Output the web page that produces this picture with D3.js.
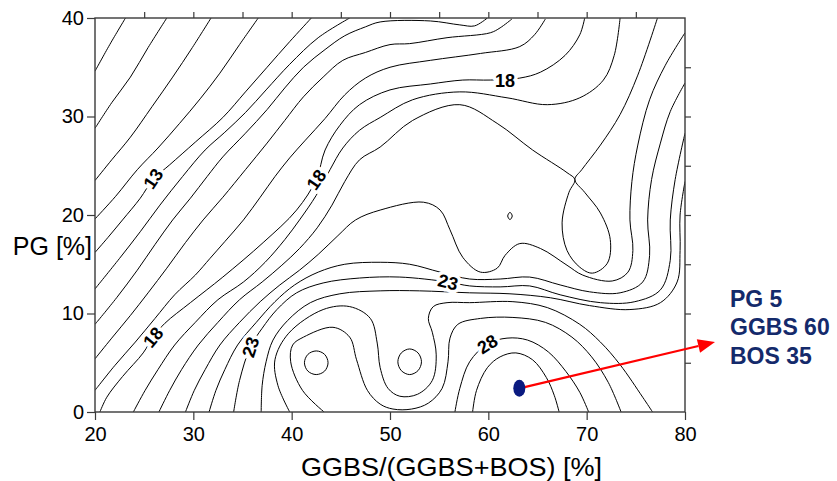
<!DOCTYPE html>
<html><head><meta charset="utf-8">
<script src="https://cdn.jsdelivr.net/npm/d3@7"></script>
<style>body{margin:0;background:#fff}svg{display:block}</style>
</head><body>
<svg id="chart" width="837" height="481"></svg>
<script>
// ---------- data (data units: x = GGBS/(GGBS+BOS) %, y = PG %) ----------
const xDomain = [20, 80];
const yDomain = [0, 40];
const xTickValues = [20, 30, 40, 50, 60, 70, 80];
const yTickValues = [0, 10, 20, 30, 40];
const xMinorTicks = [25, 30, 35, 40, 45, 50, 55, 60, 65, 70, 75];
const yMinorTicks = [5, 10, 15, 20, 25, 30, 35];
const xTitle = "GGBS/(GGBS+BOS) [%]";
const yTitle = "PG [%]";

// contour lines
const c09 = [[23.1,40],[21.5,37.3],[20,34.6]];
const c10 = [[27.3,40],[25.4,37.0],[23.6,34.0],[21.7,31.4],[20,28.8]];
const c11 = [[31.8,40],[29.9,37.0],[27.9,34.0],[25.8,31.0],[23.6,27.9],[21.7,25.6],[20,23.5]];
const c12 = [[36.6,40],[34.7,37.3],[32.7,34.4],[30.7,31.8],[28.6,29.3],[26.4,26.8],[24.3,24.6],[22.1,21.9],[20,19.6]];
const c13 = [[42.0,40],[39.8,37.6],[37.5,35.0],[35.3,32.5],[33.0,29.9],[30.2,27.4],[27.6,25.1],[25.9,23.6],[24.6,21.7],[22.8,19.5],[21.3,17.7],[20,16.2]];
const c14 = [[45.9,40],[42.7,38.0],[39.8,35.3],[37.4,32.7],[35.3,30.4],[33.2,28.4],[31.2,26.6],[28.9,23.9],[26.6,21.0],[24.6,18.3],[22.5,15.6],[20,12.5]];
const c15 = [[59.9,40],[58.6,39.2],[57.1,39.3],[54.1,39.7],[49.0,39.6],[47.5,39.1],[45.4,38.2],[43.4,36.8],[41.2,35.0],[39.3,32.9],[37.5,30.7],[35.3,28.3],[33.0,25.9],[31.4,23.9],[29.7,21.7],[27.9,19.5],[26.1,17.0],[24.3,14.4],[22.2,11.6],[20,8.9]];
const c16 = [[62.4,39.9],[61.2,39.0],[60.2,38.5],[55.8,38.0],[52.0,37.4],[50.0,37.3],[47.5,36.5],[45.2,35.7],[43.2,34.0],[41.2,32.0],[39.3,29.6],[37.5,27.3],[35.3,24.6],[33.0,21.8],[31.0,19.5],[29.2,17.2],[27.3,14.6],[25.4,12.1],[23.6,9.8],[21.7,7.5],[20,5.4]];
const c17 = [[65.8,39.9],[64.7,38.3],[63.2,37.1],[59.2,36.4],[54.1,35.7],[50.0,35.0],[47.5,33.9],[45.4,32.2],[43.4,29.8],[41.4,27.6],[39.8,25.8],[38.3,23.9],[36.8,21.8],[35.1,19.5],[33.2,17.3],[31.7,15.6],[30.2,13.9],[28.1,11.9],[26.1,9.5],[24.1,7.1],[22.0,4.7],[20,2.2]];
const c18 = [[69.8,40],[69.3,38.3],[67.8,36.2],[65.3,34.5],[63.2,33.9],[60.2,33.7],[57.4,33.7],[54.1,33.3],[50.0,32.7],[46.9,31.2],[44.9,29.1],[43.4,26.6],[42.5,23.6],[40.5,20.5],[37.1,17.2],[33.0,13.7],[29.7,11.1],[27.1,9.0],[25.9,7.6],[24.9,6.0],[22.8,3.6],[21.2,1.5],[20.5,0]];
const c19 = [[73.4,40],[72.8,36.2],[71.7,33.7],[69.3,31.9],[66.0,31.2],[61.9,31.9],[57.1,32.5],[52.3,31.7],[49.0,29.9],[46.9,28.6],[45.2,26.8],[43.9,24.6],[42.5,22.0],[40.8,19.5],[39.3,17.5],[37.3,15.2],[35.1,13.2],[32.5,11.4],[30.2,9.1],[28.1,6.8],[26.4,4.3],[25.1,2.2],[23.9,0]];
const c20 = [[26.5,0],[27.6,2.2],[28.8,4.3],[30.5,6.8],[32.5,9.1],[34.7,11.4],[37.0,13.2],[39.0,14.9],[40.8,16.6],[42.6,18.7],[44.1,21.0],[45.4,23.4],[46.9,25.6],[49.0,26.9],[52.3,29.6],[57.1,31.2],[60.9,29.3],[64.5,26.6],[68.0,24.3],[68.8,23.6],[68.2,22.3],[67.5,19.2],[68.0,16.4],[69.3,14.7],[70.6,14.1],[72.1,15.1],[72.4,17.5],[71.4,20.2],[69.8,22.3],[68.8,23.6],[69.5,24.6],[71.4,27.1],[73.4,30.2],[75.2,34.2],[77.2,40]];
const c21 = [[29.2,0],[30.1,2.2],[31.2,4.3],[32.7,6.8],[34.7,9.1],[36.8,11.2],[38.8,12.9],[40.8,14.4],[42.7,16.0],[44.7,17.9],[46.5,19.5],[49.0,20.5],[53.4,21.3],[55.1,20.5],[56.1,18.5],[57.4,15.7],[59.2,14.2],[60.9,14.6],[61.7,15.9],[63.2,17.1],[65.3,16.6],[68.0,14.9],[69.6,13.9],[72.6,13.3],[74.2,14.2],[74.7,16.4],[74.4,19.5],[74.6,23.4],[75.2,27.1],[76.4,31.7],[78.0,35.2],[80,38.5]];
const c22 = [[31.6,0],[32.3,2.2],[33.2,4.3],[34.5,6.8],[36.4,9.1],[38.3,11.2],[40.3,12.9],[42.7,14.2],[45.4,15.0],[49.0,15.2],[52.0,15.0],[55.1,14.2],[58.1,13.5],[61.2,13.5],[64.2,13.7],[67.3,12.9],[70.3,12.2],[73.4,12.1],[75.7,13.2],[76.4,15.9],[76.2,19.5],[76.6,23.6],[77.5,27.3],[78.5,30.5],[80,33.4]];
const c23 = [[34.1,0],[34.7,3.2],[35.8,6.6],[37.0,8.5],[38.5,10.4],[40.5,12.1],[43.2,13.1],[46.9,13.6],[51.0,13.7],[55.9,13.2],[58.1,12.8],[61.2,12.7],[64.2,12.8],[67.3,11.9],[71.4,11.1],[74.9,11.2],[77.5,12.4],[78.5,15.4],[78.5,19.5],[79.0,23.6],[80,28.3]];
const c24 = [[36.9,0],[37.0,2.7],[37.4,5.1],[38.1,7.3],[39.6,9.3],[41.9,11.1],[44.9,12.0],[49.0,12.3],[53.0,12.3],[58.1,12.1],[62.2,12.0],[66.3,11.6],[70.3,10.8],[74.4,10.4],[77.5,11.1],[79.2,13.2],[79.5,16.4],[79.5,20.0],[80,23.4]];
const c25 = [[39.8,0],[38.6,2.7],[38.3,5.3],[39.7,8.0],[43.2,10.4],[45.9,10.7],[48.0,9.5],[48.7,7.0],[49.0,4.5],[49.8,2.4],[51.0,1.6],[52.8,1.8],[54.3,3.2],[54.7,5.8],[54.3,8.1],[53.9,9.5],[54.4,10.7],[55.8,11.1],[58.1,11.1],[62.5,11.2],[66.0,10.6],[69.3,8.9],[71.4,7.1],[73.4,4.8],[75.7,1.5],[76.7,0]];
const c26 = [[43.3,0],[41.1,2.2],[39.9,5.1],[40.1,6.8],[41.2,7.6],[44.2,8.6],[45.9,7.6],[46.6,5.3],[47.7,2.2],[49.0,0.8],[50.3,0.3],[52.2,0.3],[53.9,0.9],[55.3,2.4],[55.9,5.1],[56.1,7.5],[56.9,8.9],[59.2,9.5],[62.5,9.6],[65.8,9.1],[68.5,7.6],[70.5,5.6],[72.2,3.0],[73.5,0]];
const c28 = [[56.6,0],[57.1,2.4],[58.1,5.1],[59.9,6.9],[61.9,7.5],[64.0,7.3],[66.1,6.1],[67.9,4.1],[69.3,2.0],[70.2,0]];
const c29 = [[58.4,0],[58.8,2.2],[59.9,4.5],[61.2,5.6],[62.8,6.0],[64.5,5.3],[65.9,3.5],[66.7,1.7],[67.2,0]];
const loopLeftLobe  = [[43.7,5.0],[43.35,5.85],[42.5,6.2],[41.65,5.85],[41.3,5.0],[41.65,4.15],[42.5,3.8],[43.35,4.15]];
const loopRightLobe = [[53.2,5.1],[52.85,6.0],[52.0,6.4],[51.15,6.0],[50.8,5.1],[51.15,4.2],[52.0,3.8],[52.85,4.2]];
const loopSmall     = [[62.43,19.9],[62.2,20.27],[61.97,19.9],[62.2,19.53]];

const openContours = [c09,c10,c11,c12,c13,c14,c15,c16,c17,c18,c19,c20,c21,c22,c23,c24,c25,c26,c28,c29];
const closedContours = [loopLeftLobe, loopRightLobe, loopSmall];

// contour labels: text, x, y, rotation (deg)
const labelText  = ["13","18","18","18","23","23","28"];
const labelX     = [25.9, 42.5, 61.7, 25.9, 35.8, 55.9, 59.9];
const labelY     = [23.7, 23.6, 33.7, 7.6, 6.6, 13.2, 6.9];
const labelAngle = [-56, -55, 0, -50, -72, 14, -32];

// marked mix and its annotation
const markPoint = [63.15, 2.4];
const arrowTip = [83.05, 7.1];
const noteLines = ["PG 5", "GGBS 60", "BOS 35"];

// ---------- drawing ----------
const svg = d3.select("#chart");
const W = 837, H = 481;
const m = {left: 95, right: 837-685, top: 18, bottom: 481-412};
const x = d3.scaleLinear().domain(xDomain).range([m.left, W - m.right]);
const y = d3.scaleLinear().domain(yDomain).range([H - m.bottom, m.top]);
const FONT = "'Liberation Sans', Arial, Helvetica, sans-serif";
const axisColor = "#3a3a3a";

svg.append("defs").append("clipPath").attr("id","plotclip")
  .append("rect").attr("x", x(20)).attr("y", y(40))
  .attr("width", x(80)-x(20)).attr("height", y(0)-y(40));

const gC = svg.append("g").attr("clip-path","url(#plotclip)");
const line = d3.line().x(d => x(d[0])).y(d => y(d[1])).curve(d3.curveCatmullRom.alpha(0.5));
const lineClosed = d3.line().x(d => x(d[0])).y(d => y(d[1])).curve(d3.curveCatmullRomClosed.alpha(0.5));
gC.selectAll("path.open").data(openContours).join("path").attr("class","open")
  .attr("d", line).attr("fill","none").attr("stroke","#000").attr("stroke-width",1);
gC.selectAll("path.closed").data(closedContours).join("path").attr("class","closed")
  .attr("d", lineClosed).attr("fill","none").attr("stroke","#000").attr("stroke-width",1);

// labels
const labels = labelText.map((t,i) => ({t, x: labelX[i], y: labelY[i], a: labelAngle[i]}));
svg.append("g").selectAll("text").data(labels).join("text")
  .attr("transform", d => `translate(${x(d.x)},${y(d.y)}) rotate(${d.a})`)
  .attr("text-anchor","middle").attr("dy","0.36em")
  .attr("font-family", FONT).attr("font-weight","bold").attr("font-size", 18)
  .attr("stroke","#fff").attr("stroke-width",7).attr("paint-order","stroke").attr("stroke-linejoin","round")
  .attr("fill","#000").text(d => d.t);

// axes
const gx = svg.append("g").attr("transform", `translate(0,${y(0)})`)
  .call(d3.axisBottom(x).tickValues(xTickValues).tickSize(8).tickPadding(7).tickFormat(d3.format("d")));
const gy = svg.append("g").attr("transform", `translate(${x(20)},0)`)
  .call(d3.axisLeft(y).tickValues(yTickValues).tickSize(8).tickPadding(3).tickFormat(d3.format("d")));
const gt = svg.append("g").attr("transform", `translate(0,${y(40)})`)
  .call(d3.axisTop(x).tickValues(xMinorTicks).tickSize(6).tickFormat(""));
const gr = svg.append("g").attr("transform", `translate(${x(80)},0)`)
  .call(d3.axisRight(y).tickValues(yMinorTicks).tickSize(6).tickFormat(""));
[gx, gy, gt, gr].forEach(g => {
  g.select(".domain").remove();
  g.selectAll(".tick line").attr("stroke", axisColor).attr("stroke-width", 1.2);
  g.selectAll(".tick text").attr("font-family", FONT).attr("font-size", 20).attr("fill","#000");
});
svg.append("rect").attr("x", x(20)).attr("y", y(40))
  .attr("width", x(80)-x(20)).attr("height", y(0)-y(40))
  .attr("fill","none").attr("stroke", axisColor).attr("stroke-width", 1.4);

// titles
svg.append("text").attr("x", 301).attr("y", 476)
  .attr("font-family", FONT).attr("font-size", 25).attr("fill","#000")
  .attr("textLength", 301).attr("lengthAdjust","spacingAndGlyphs").text(xTitle);
svg.append("text").attr("x", 92).attr("y", 255).attr("text-anchor","end")
  .attr("font-family", FONT).attr("font-size", 25).attr("fill","#000").text(yTitle);

// marker + arrow
const px0 = x(markPoint[0]), py0 = y(markPoint[1]);
const px1 = x(arrowTip[0]), py1 = y(arrowTip[1]);
const ang = Math.atan2(py1 - py0, px1 - px0);
const headLen = 17, headW = 7;
const bx = px1 - headLen*Math.cos(ang), by = py1 - headLen*Math.sin(ang);
svg.append("line").attr("x1", px0).attr("y1", py0).attr("x2", bx).attr("y2", by)
  .attr("stroke","#ff0000").attr("stroke-width", 2.2);
svg.append("path").attr("d", `M${px1},${py1} L${bx + headW*Math.sin(ang)},${by - headW*Math.cos(ang)} L${bx - headW*Math.sin(ang)},${by + headW*Math.cos(ang)} Z`)
  .attr("fill","#ff0000");
svg.append("ellipse").attr("cx", px0).attr("cy", py0).attr("rx", 6).attr("ry", 8.5).attr("fill","#0a1a80");

svg.append("g").selectAll("text").data(noteLines).join("text")
  .attr("x", 730).attr("y", (d,i) => 307 + i*28.3)
  .attr("font-family", FONT).attr("font-weight","bold").attr("font-size", 23)
  .attr("fill","#142a6b").text(d => d);
</script>
</body></html>
